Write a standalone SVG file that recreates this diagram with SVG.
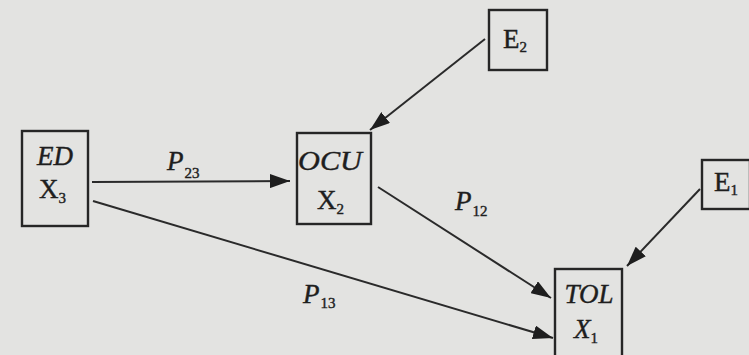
<svg xmlns="http://www.w3.org/2000/svg" width="749" height="355" viewBox="0 0 749 355">
<style>
.bg{fill:#e3e3e1}
.box{fill:none;stroke:#262626;stroke-width:2.4}
.t{font-family:"Liberation Serif","DejaVu Serif",serif;fill:#1e1e1e;stroke:#1e1e1e;stroke-width:0.4;font-size:27px}
.i{font-style:italic}
.s{font-size:15px;font-style:normal}
.c{stroke:#2a2a2a;stroke-width:2;fill:none}
</style>
<defs>
<marker id="ah" viewBox="0 0 20 14" refX="20" refY="7" markerWidth="20" markerHeight="14" markerUnits="userSpaceOnUse" orient="auto">
<path d="M0,0 L20,7 L0,14 Z" fill="#1e1e1e"/>
</marker>
</defs>
<rect class="bg" x="0" y="0" width="749" height="355"/>
<g id="connectors">
<line class="c" x1="92" y1="182" x2="290" y2="181" marker-end="url(#ah)"/>
<line class="c" x1="93" y1="201" x2="553" y2="338" marker-end="url(#ah)"/>
<line class="c" x1="378" y1="187" x2="551" y2="298" marker-end="url(#ah)"/>
<line class="c" x1="485" y1="39" x2="370" y2="130" marker-end="url(#ah)"/>
<line class="c" x1="700" y1="189" x2="627" y2="266" marker-end="url(#ah)"/>
</g>
<g id="labels">
<text class="t i" x="167" y="170">P<tspan class="s" dy="8" dx="1">23</tspan></text>
<text class="t i" x="455" y="210">P<tspan class="s" dy="6" dx="1">12</tspan></text>
<text class="t i" x="303" y="303">P<tspan class="s" dy="5" dx="1">13</tspan></text>
</g>
<g id="ED">
<rect class="box" x="22" y="131" width="66" height="95"/>
<text class="t i" x="55" y="165" text-anchor="middle">ED</text>
<text class="t" x="39" y="198">X<tspan class="s" dy="5">3</tspan></text>
</g>
<g id="OCU">
<rect class="box" x="297" y="133" width="74" height="91"/>
<text class="t i" x="330" y="170" text-anchor="middle" textLength="64" lengthAdjust="spacingAndGlyphs">OCU</text>
<text class="t" x="317" y="209">X<tspan class="s" dy="5">2</tspan></text>
</g>
<g id="E2">
<rect class="box" x="489" y="10" width="58" height="60"/>
<text class="t" x="503" y="48">E<tspan class="s" dy="4">2</tspan></text>
</g>
<g id="E1">
<rect class="box" x="702" y="160" width="48" height="49"/>
<text class="t" x="714" y="191">E<tspan class="s" dy="4">1</tspan></text>
</g>
<g id="TOL">
<rect class="box" x="555" y="269" width="67" height="100"/>
<text class="t i" x="589" y="303" text-anchor="middle">TOL</text>
<text class="t i" x="574" y="338">X<tspan class="s" dy="5">1</tspan></text>
</g>
</svg>
